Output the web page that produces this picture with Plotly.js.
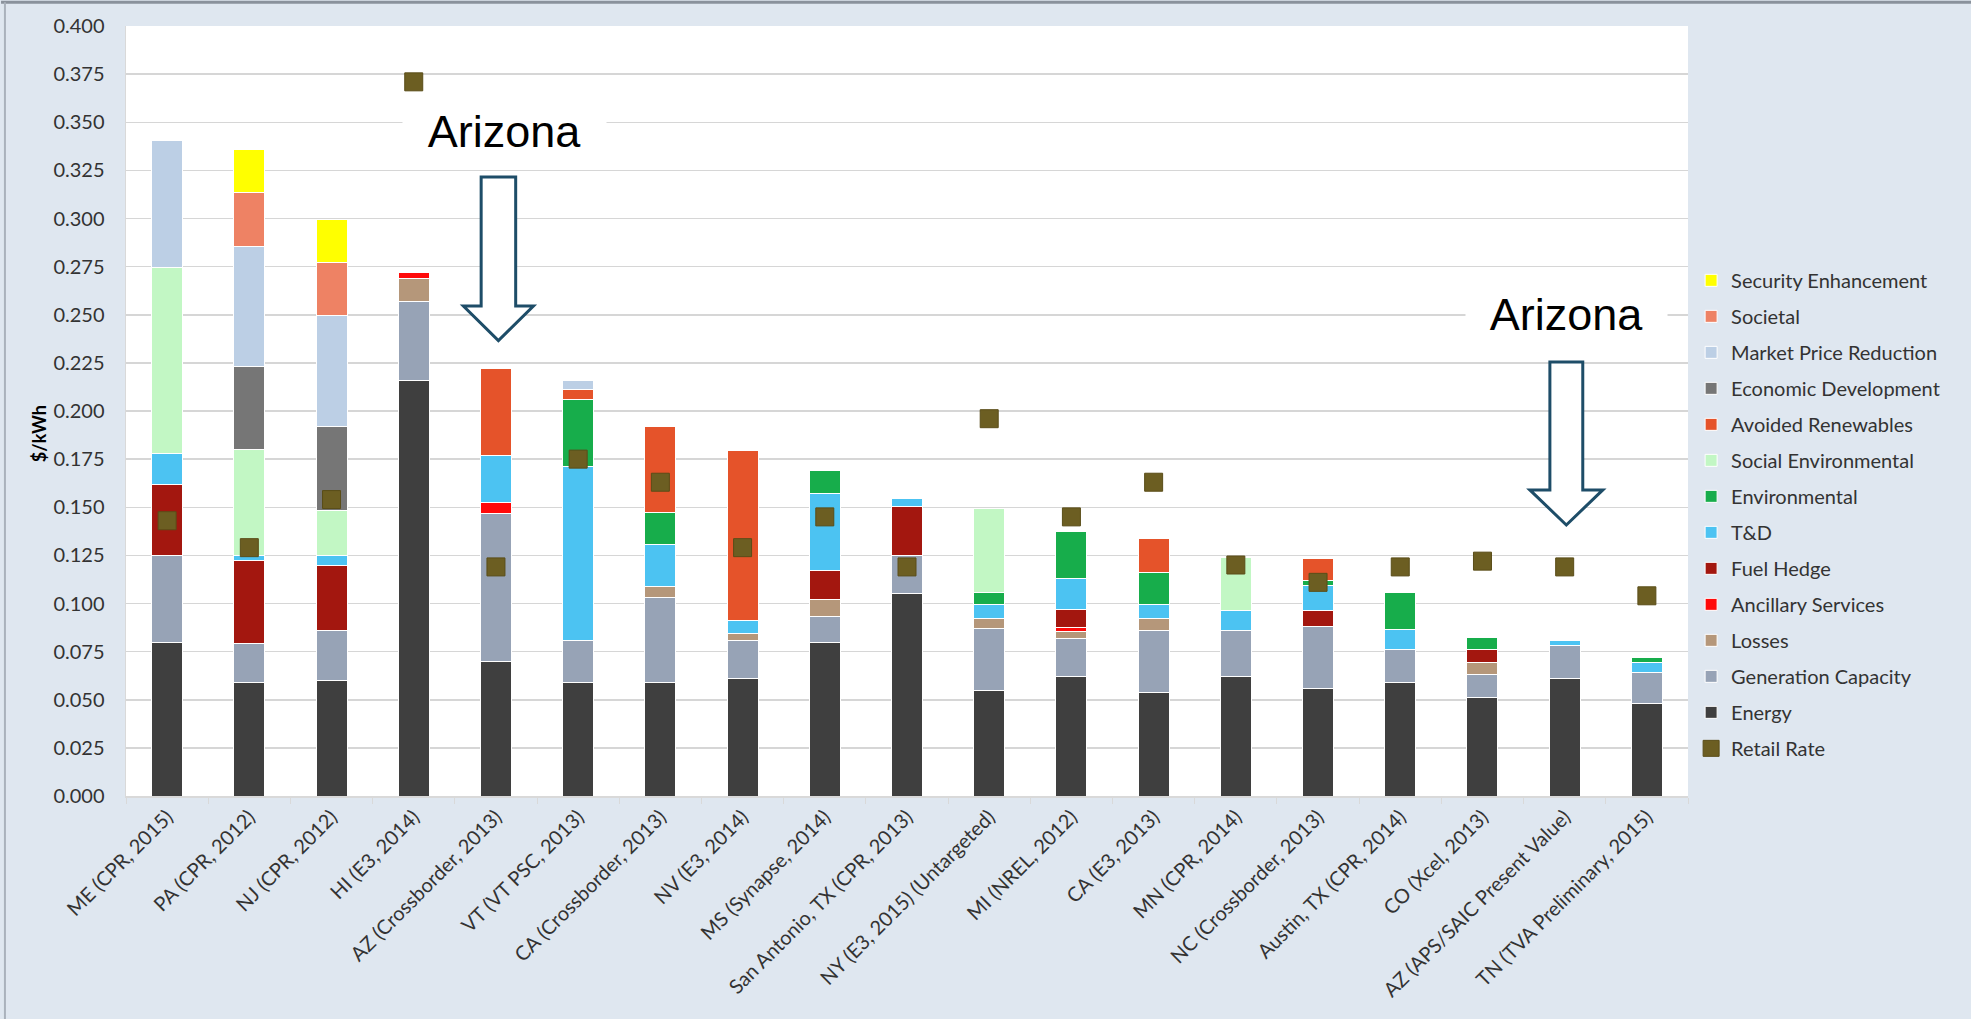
<!DOCTYPE html>
<html>
<head>
<meta charset="utf-8">
<script src="https://cdn.plot.ly/plotly-3.0.1.min.js"></script>
<style>html,body{margin:0;padding:0;background:#dfe7f0;}#chart{width:1971px;height:1019px;}</style>
</head>
<body>
<div id="chart"></div>
<script>
const categories = ["ME (CPR, 2015)", "PA (CPR, 2012)", "NJ (CPR, 2012)", "HI (E3, 2014)", "AZ (Crossborder, 2013)",
  "VT (VT PSC, 2013)", "CA (Crossborder, 2013)", "NV (E3, 2014)", "MS (Synapse, 2014)", "San Antonio, TX (CPR, 2013)",
  "NY (E3, 2015) (Untargeted)", "MI (NREL, 2012)", "CA (E3, 2013)", "MN (CPR, 2014)", "NC (Crossborder, 2013)",
  "Austin, TX (CPR, 2014)", "CO (Xcel, 2013)", "AZ (APS/SAIC Present Value)", "TN (TVA Preliminary, 2015)"];

const energy = [0.080, 0.059, 0.060, 0.216, 0.070, 0.059, 0.059, 0.061, 0.080, 0.105, 0.055, 0.062, 0.054, 0.062, 0.056, 0.059, 0.051, 0.061, 0.048];
const generationCapacity = [0.045, 0.020, 0.026, 0.041, 0.077, 0.022, 0.044, 0.020, 0.013, 0.020, 0.032, 0.020, 0.032, 0.024, 0.032, 0.017, 0.012, 0.017, 0.016];
const losses = [null, null, null, 0.012, null, null, 0.006, 0.0035, 0.009, null, 0.005, 0.0035, 0.006, null, null, null, 0.0066, null, null];
const ancillaryServices = [null, null, null, 0.003, 0.0055, null, null, null, null, null, null, 0.002, null, null, null, null, null, null, null];
const fuelHedge = [0.037, 0.0435, 0.034, null, null, null, null, null, 0.015, 0.0255, null, 0.0095, null, null, 0.0083, null, 0.0064, null, null];
const tAndD = [0.016, 0.0023, 0.0048, null, 0.0245, 0.090, 0.0215, 0.0066, 0.040, 0.0038, 0.0076, 0.016, 0.0074, 0.0106, 0.013, 0.0104, null, 0.003, 0.0056];
const environmental = [null, null, null, null, null, 0.035, 0.017, null, 0.012, null, 0.0063, 0.0243, 0.0168, null, 0.0026, 0.0194, 0.0061, null, 0.0021];
const socialEnvironmental = [0.0965, 0.055, 0.0234, null, null, null, null, null, null, null, 0.0437, null, null, 0.0272, null, null, null, null, null];
const avoidedRenewables = [null, null, null, null, 0.045, 0.0052, 0.0447, 0.0884, null, null, null, null, 0.0177, null, 0.0113, null, null, null, null];
const economicDevelopment = [null, 0.0432, 0.0437, null, null, null, null, null, null, null, null, null, null, null, null, null, null, null, null];
const marketPriceReduction = [0.0658, 0.0627, 0.0575, null, null, 0.0044, null, null, null, null, null, null, null, null, null, null, null, null, null];
const societal = [null, 0.0277, 0.0278, null, null, null, null, null, null, null, null, null, null, null, null, null, null, null, null];
const securityEnhancement = [null, 0.0226, 0.0225, null, null, null, null, null, null, null, null, null, null, null, null, null, null, null, null];
const retailRate = [0.143, 0.129, 0.154, 0.371, 0.119, 0.175, 0.163, 0.129, 0.145, 0.119, 0.196, 0.145, 0.163, 0.120, 0.111, 0.119, 0.122, 0.119, 0.104];

const yTickVals = [0, 0.025, 0.05, 0.075, 0.1, 0.125, 0.15, 0.175, 0.2, 0.225, 0.25, 0.275, 0.3, 0.325, 0.35, 0.375, 0.4];
const yTickText = ["0.000", "0.025", "0.050", "0.075", "0.100", "0.125", "0.150", "0.175", "0.200", "0.225", "0.250", "0.275", "0.300", "0.325", "0.350", "0.375", "0.400"];

const seriesNames = ["Energy", "Generation Capacity", "Losses", "Ancillary Services", "Fuel Hedge", "T&D", "Environmental",
  "Social Environmental", "Avoided Renewables", "Economic Development", "Market Price Reduction", "Societal", "Security Enhancement"];
const seriesValues = [energy, generationCapacity, losses, ancillaryServices, fuelHedge, tAndD, environmental,
  socialEnvironmental, avoidedRenewables, economicDevelopment, marketPriceReduction, societal, securityEnhancement];
const seriesColors = ["#3f3f3f", "#97a3b6", "#b5977a", "#ff0a0a", "#a3170f", "#4cc3f2", "#17ad4b",
  "#c2f7c4", "#e5532a", "#767676", "#bccfe5", "#ee8264", "#ffff00"];

const FONT = "Lato, 'Open Sans', sans-serif";
const TEXT = "#333333";

const traces = [];
seriesNames.forEach((n, i) => {
  traces.push({
    type: "bar", name: n, x: categories, y: seriesValues[i], legendgroup: n,
    legendrank: seriesNames.length - i,
    marker: {color: seriesColors[i], line: {color: "#ffffff", width: 1}}
  });
});
traces.push({
  type: "scatter", mode: "markers", name: "Retail Rate", x: categories, y: retailRate,
  legendgroup: "Retail Rate", legendrank: seriesNames.length + 1,
  marker: {symbol: "square", size: 18, color: "#6c5e22", line: {color: "#5a4d18", width: 1}}
});

function arrow(cx, halfShaft, halfHead, yTop, yNeck, yTip) {
  return {
    type: "path", xref: "x", yref: "y", layer: "above",
    path: `M ${cx - halfShaft} ${yTop} L ${cx + halfShaft} ${yTop} L ${cx + halfShaft} ${yNeck} L ${cx + halfHead} ${yNeck} L ${cx} ${yTip} L ${cx - halfHead} ${yNeck} L ${cx - halfShaft} ${yNeck} Z`,
    fillcolor: "#ffffff", line: {color: "#1e4d68", width: 3}
  };
}

const layout = {
  width: 1971, height: 1019,
  margin: {l: 126, r: 283, t: 26, b: 223},
  paper_bgcolor: "#dfe7f0", plot_bgcolor: "#ffffff",
  barmode: "stack", bargap: 0.623,
  font: {family: FONT, size: 20, color: TEXT},
  showlegend: true,
  legend: {
    x: 1.002, xanchor: "left", y: 0.695, yanchor: "top",
    traceorder: "grouped", tracegroupgap: 7,
    bgcolor: "rgba(0,0,0,0)", font: {family: FONT, size: 20, color: TEXT}
  },
  xaxis: {
    type: "category", range: [-0.5, 18.5], autorange: false, tickangle: -45,
    tickfont: {family: FONT, size: 20, color: TEXT},
    showline: true, linecolor: "#d9d9d9", linewidth: 1.5,
    ticks: "outside", tickson: "boundaries", ticklen: 6, tickcolor: "#d9d9d9",
    showgrid: false, automargin: false
  },
  yaxis: {
    range: [0, 0.4], autorange: false, tickvals: yTickVals, ticktext: yTickText,
    tickfont: {family: FONT, size: 20, color: TEXT},
    showgrid: true, gridcolor: "#d6d6d6", gridwidth: 1.5,
    showline: true, linecolor: "#d9d9d9", linewidth: 1.5,
    ticks: "", ticklabelstandoff: 16, zeroline: false, automargin: false
  },
  shapes: [
    arrow(4.03, 0.21, 0.426, 0.3216, 0.2545, 0.2366),
    arrow(17.02, 0.2, 0.444, 0.2255, 0.159, 0.1408),
    {type: "line", xref: "paper", yref: "paper", x0: -0.08, x1: 1.19, y0: 1.031, y1: 1.031, line: {color: "#8a929c", width: 3}},
    {type: "line", xref: "paper", yref: "paper", x0: -0.0775, x1: -0.0775, y0: 1.031, y1: -0.29, line: {color: "#aab2bc", width: 2}}
  ],
  annotations: [
    {text: "Arizona", xref: "x", yref: "y", x: 4.1, y: 0.3455, showarrow: false,
     font: {family: "'Liberation Sans', Arial, sans-serif", size: 45, color: "#000000"},
     bgcolor: "#ffffff", width: 201, height: 66},
    {text: "Arizona", xref: "x", yref: "y", x: 17.02, y: 0.2504, showarrow: false,
     font: {family: "'Liberation Sans', Arial, sans-serif", size: 45, color: "#000000"},
     bgcolor: "#ffffff", width: 199, height: 66},
    {text: "<b>$/kWh</b>", xref: "paper", yref: "paper", x: -0.064, y: 0.470, textangle: -90, showarrow: false,
     font: {family: FONT, size: 18, color: "#000000"}}
  ]
};

Plotly.newPlot("chart", traces, layout, {displayModeBar: false, staticPlot: true});
</script>
</body>
</html>
